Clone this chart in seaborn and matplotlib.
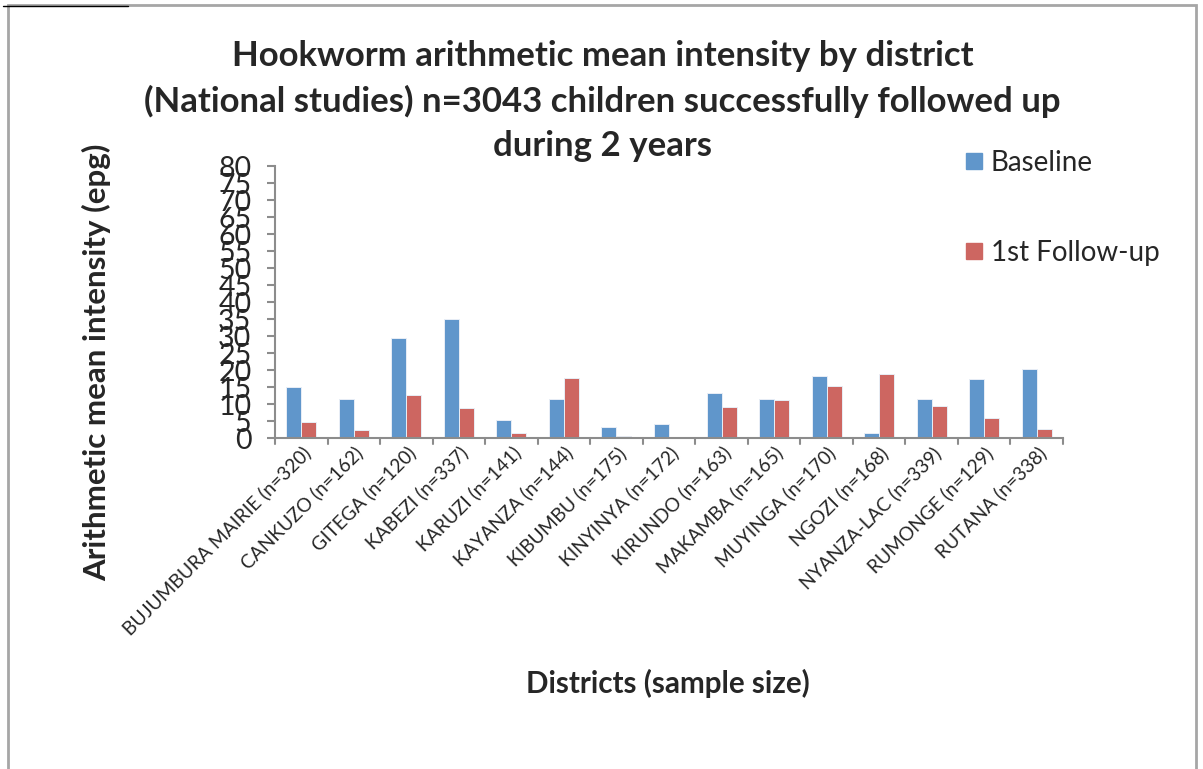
import matplotlib
matplotlib.use("Agg")
import matplotlib.pyplot as plt
from matplotlib.lines import Line2D
from matplotlib.patches import Rectangle
import seaborn as sns
import pandas as pd

districts = [
    "BUJUMBURA MAIRIE (n=320)", "CANKUZO (n=162)", "GITEGA (n=120)",
    "KABEZI (n=337)", "KARUZI (n=141)", "KAYANZA (n=144)", "KIBUMBU (n=175)",
    "KINYINYA (n=172)", "KIRUNDO (n=163)", "MAKAMBA (n=165)",
    "MUYINGA (n=170)", "NGOZI (n=168)", "NYANZA-LAC (n=339)",
    "RUMONGE (n=129)", "RUTANA (n=338)",
]
baseline = [14.9, 11.4, 29.4, 35.1, 5.4, 11.6, 3.1, 4.2, 13.1, 11.4,
            18.1, 1.4, 11.4, 17.3, 20.2]
follow_up = [4.8, 2.4, 12.6, 8.9, 1.6, 17.8, 0.5, 0.3, 9.1, 11.3,
             15.2, 18.9, 9.3, 5.8, 2.6]
series_names = ["Baseline", "1st Follow-up"]
y_ticks = list(range(0, 85, 5))

df = pd.DataFrame({
    "district": districts * 2,
    "value": baseline + follow_up,
    "series": [series_names[0]] * len(districts) + [series_names[1]] * len(districts),
})

sns.set_theme(style="white")
plt.rcParams["font.family"] = ["Lato", "DejaVu Sans"]

colors = {"Baseline": "#6096CB", "1st Follow-up": "#CD6661"}
grey = "#8c8c8c"

fig = plt.figure(figsize=(12.03, 7.69), dpi=100)
ax = fig.add_axes([0.2286, 0.4304, 0.655, 0.3537])

sns.barplot(data=df, x="district", y="value", hue="series", palette=colors,
            width=0.571, edgecolor="#e8eef6", linewidth=0.7, ax=ax,
            legend=False, saturation=1)

ax.set_xlim(-0.5, len(districts) - 0.5)
ax.set_ylim(0, 80)
ax.set_yticks(y_ticks)
ax.set_yticklabels([str(v) for v in y_ticks], fontsize=20.5)
ax.set_xticks(range(len(districts)))
ax.set_xticklabels(districts, rotation=45, ha="right", rotation_mode="anchor",
                   fontsize=13.8)
ax.tick_params(axis="x", length=0, pad=4)
ax.tick_params(axis="y", length=6, width=1.5, color=grey, direction="out",
               pad=11, left=True)
# category boundary ticks below the x axis
for b in [i - 0.5 for i in range(len(districts) + 1)]:
    ax.plot([b, b], [0, -1.9], color=grey, lw=1.5, clip_on=False)
ax.set_xlabel("")
ax.set_ylabel("")
for side in ["top", "right"]:
    ax.spines[side].set_visible(False)
for side in ["left", "bottom"]:
    ax.spines[side].set_color(grey)
    ax.spines[side].set_linewidth(1.5)

fig.text(0.501, 1 - 101 / 769,
         "Hookworm arithmetic mean intensity by district\n"
         "(National studies) n=3043 children successfully followed up\n"
         "during 2 years",
         ha="center", va="center", fontsize=25, fontweight="bold",
         linespacing=1.47)
fig.text(97 / 1203, 1 - 362 / 769, "Arithmetic mean intensity (epg)",
         rotation=90, ha="center", va="center", fontsize=22.5, fontweight="bold")
fig.text(668 / 1203, 1 - 683 / 769, "Districts (sample size)",
         ha="center", va="center", fontsize=21.3, fontweight="bold")

handles = [Line2D([0], [0], marker="s", linestyle="none", markersize=11,
                  markerfacecolor=colors[n], markeredgecolor=colors[n])
           for n in series_names]
fig.legend(handles, series_names, loc="upper left",
           bbox_to_anchor=(0.789, 0.823), frameon=False, fontsize=20,
           labelspacing=2.3, handletextpad=0.2, borderpad=0,
           handlelength=0.8)

# outer frame and caption underline
fig.add_artist(Rectangle((8 / 1203, -0.05), 1188 / 1203, 1.05 - 5 / 769,
                         transform=fig.transFigure, fill=False,
                         edgecolor="#a6a6a6", linewidth=2))
fig.add_artist(Line2D([3 / 1203, 128 / 1203], [1 - 6 / 769, 1 - 6 / 769],
                      transform=fig.transFigure, color="black", lw=1))

fig.savefig("out.png", dpi=100, facecolor="white")
